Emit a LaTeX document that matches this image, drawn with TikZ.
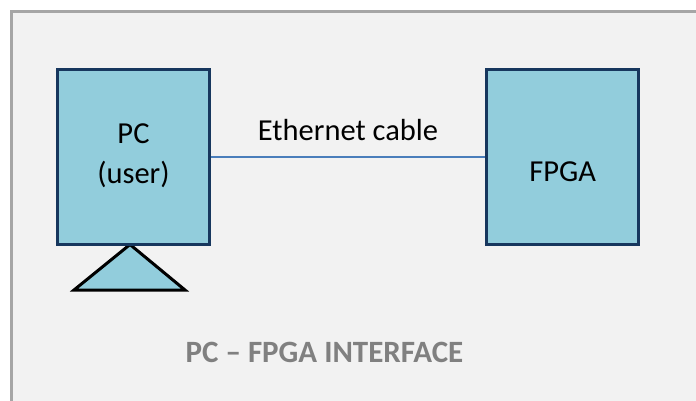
\documentclass[tikz,border=0pt]{standalone}
\usepackage{fontspec}
\setmainfont{Carlito}
\definecolor{framegray}{HTML}{A6A6A6}
\definecolor{panel}{HTML}{F2F2F2}
\definecolor{boxfill}{HTML}{92CDDC}
\definecolor{boxline}{HTML}{17375E}
\definecolor{cable}{HTML}{4A7EBB}
\definecolor{titlegray}{HTML}{808080}
\tikzset{
  unitbox/.style={draw=boxline, fill=boxfill, line width=3pt,
    minimum width=152pt, minimum height=175pt, inner sep=0pt},
  boxtext/.style={font=\fontsize{30.5}{40}\selectfont, align=center, inner sep=0pt},
  stand/.style={draw=black, fill=boxfill, line width=3pt, line join=miter},
  link/.style={draw=cable, line width=1.2pt},
}
\begin{document}
\begin{tikzpicture}[x=1pt, y=-1pt]
  \useasboundingbox (0,0) rectangle (696,400);
  \clip (0,0) rectangle (696,400);
  \fill[white] (0,0) rectangle (696,400);
  % outer panel, running off the right and bottom edges
  \draw[framegray, fill=panel, line width=3pt] (11.5,11.5) rectangle (720,420);

  % PC stand, then the PC itself
  \coordinate (standL) at (74,290);
  \coordinate (standR) at (185,290);
  \coordinate (apex) at (130,244.5);
  \draw[stand] (apex) -- (standR) -- (standL) -- cycle;
  \node[unitbox] (pc) at (133.5,157) {};
  \node[boxtext] (pclabel) at (133.5,156) {PC\\(user)};

  % FPGA board
  \node[unitbox] (fpga) at (562.75,157) {};
  \node[boxtext, anchor=base] (fpgalabel) at (562.75,181) {FPGA};

  % cable between the two
  \draw[link] (pc.east) -- (fpga.west);
  \node[boxtext, anchor=base] (cablelabel) at (348,140) {Ethernet cable};

  % caption
  \node[font=\fontsize{31}{36}\selectfont\bfseries, text=titlegray, anchor=base, inner sep=0pt]
    (caption) at (324.5,362) {PC -- FPGA INTERFACE};
\end{tikzpicture}
\end{document}
